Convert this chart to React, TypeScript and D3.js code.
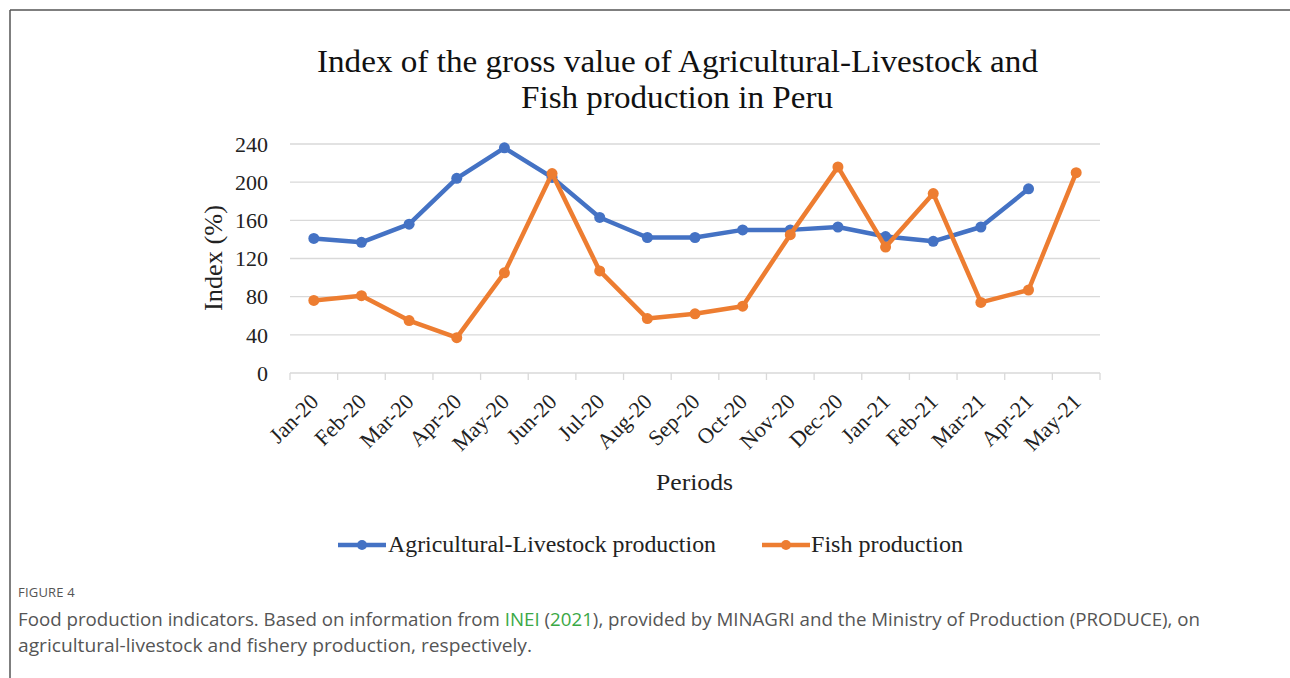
import React from "react";
import * as d3 from "d3";

const categories = ["Jan-20","Feb-20","Mar-20","Apr-20","May-20","Jun-20","Jul-20","Aug-20","Sep-20","Oct-20","Nov-20","Dec-20","Jan-21","Feb-21","Mar-21","Apr-21","May-21"];
const agriValues: (number | null)[] = [141, 137, 156, 204, 236, 205, 163, 142, 142, 150, 150, 153, 143, 138, 153, 193, null];
const fishValues: (number | null)[] = [76, 81, 55, 37, 105, 209, 107, 57, 62, 70, 145, 216, 132, 188, 74, 87, 210];
const yTicks = [0, 40, 80, 120, 160, 200, 240];

const W = 1290, H = 678;
const plotLeft = 290, plotRight = 1100, plotTop = 144, plotBottom = 373;
const BLUE = "#4472C4", ORANGE = "#ED7D31";
const SERIF = "'Liberation Serif', 'Times New Roman', serif";
const SANS = "'Open Sans', 'Noto Sans', sans-serif";

export default function App() {
  const x = d3.scaleBand<string>().domain(categories).range([plotLeft, plotRight]).padding(0);
  const y = d3.scaleLinear().domain([0, 240]).range([plotBottom, plotTop]);
  const cx = (c: string) => (x(c) ?? 0) + x.bandwidth() / 2;

  const line = d3.line<[string, number | null]>()
    .defined(d => d[1] !== null)
    .x(d => cx(d[0]))
    .y(d => y(d[1] as number));

  const series = [
    { name: "Agricultural-Livestock production", values: agriValues, color: BLUE },
    { name: "Fish production", values: fishValues, color: ORANGE },
  ];

  const tickXs = categories.map(c => x(c) ?? 0).concat([plotRight]);

  return (
    <svg width={W} height={H} style={{ position: "absolute", left: 0, top: 0, background: "#fff" }}>
      <rect x={0} y={0} width={W} height={H} fill="#fff" />
      {/* frame */}
      <line x1={10} y1={10} x2={W} y2={10} stroke="#555" strokeWidth={1.5} />
      <line x1={10} y1={10} x2={10} y2={H} stroke="#555" strokeWidth={1.5} />

      {/* title */}
      <text x={677.5} y={72} textAnchor="middle" fontFamily={SERIF} fontSize={32.5} fill="#111"
        textLength={721} lengthAdjust="spacingAndGlyphs">
        Index of the gross value of Agricultural-Livestock and
      </text>
      <text x={677} y={108} textAnchor="middle" fontFamily={SERIF} fontSize={32.5} fill="#111"
        textLength={312} lengthAdjust="spacingAndGlyphs">
        Fish production in Peru
      </text>

      {/* grid */}
      {yTicks.map(t => (
        <g key={t}>
          {t > 0 && <line x1={plotLeft} x2={plotRight} y1={y(t)} y2={y(t)} stroke="#d9d9d9" strokeWidth={1.3} />}
          <text x={268} y={y(t)} dy="0.35em" textAnchor="end" fontFamily={SERIF} fontSize={22} fill="#222">{t}</text>
        </g>
      ))}
      {/* x axis */}
      <line x1={plotLeft} x2={plotRight} y1={plotBottom} y2={plotBottom} stroke="#d9d9d9" strokeWidth={1.3} />
      {tickXs.map((tx, i) => (
        <line key={i} x1={tx} x2={tx} y1={plotBottom} y2={plotBottom + 7} stroke="#d9d9d9" strokeWidth={1.3} />
      ))}
      {categories.map(c => (
        <text key={c} transform={`translate(${cx(c) + 6},${plotBottom + 30}) rotate(-45)`} textAnchor="end"
          fontFamily={SERIF} fontSize={22} fill="#222">{c}</text>
      ))}

      {/* axis titles */}
      <text transform={`translate(222,258) rotate(-90)`} textAnchor="middle"
        fontFamily={SERIF} fontSize={25} fill="#222" textLength={106} lengthAdjust="spacingAndGlyphs">Index (%)</text>
      <text x={694.5} y={490} textAnchor="middle" fontFamily={SERIF} fontSize={24} fill="#222"
        textLength={77} lengthAdjust="spacingAndGlyphs">Periods</text>

      {/* series */}
      {series.map(s => {
        const pts = categories.map((c, i) => [c, s.values[i]] as [string, number | null]);
        return (
          <g key={s.name}>
            <path d={line(pts) ?? ""} fill="none" stroke={s.color} strokeWidth={4.5} strokeLinejoin="round" strokeLinecap="round" />
            {pts.filter(p => p[1] !== null).map(p => (
              <circle key={p[0]} cx={cx(p[0])} cy={y(p[1] as number)} r={5.5} fill={s.color} />
            ))}
          </g>
        );
      })}

      {/* legend */}
      <g>
        <line x1={338} x2={386} y1={545} y2={545} stroke={BLUE} strokeWidth={4.5} />
        <circle cx={362} cy={545} r={5} fill={BLUE} />
        <text x={388} y={552} fontFamily={SERIF} fontSize={23} fill="#222" textLength={328} lengthAdjust="spacingAndGlyphs">Agricultural-Livestock production</text>
        <line x1={762} x2={810} y1={545} y2={545} stroke={ORANGE} strokeWidth={4.5} />
        <circle cx={786} cy={545} r={5} fill={ORANGE} />
        <text x={811} y={552} fontFamily={SERIF} fontSize={23} fill="#222" textLength={152} lengthAdjust="spacingAndGlyphs">Fish production</text>
      </g>

      {/* caption */}
      <text x={18} y={597} fontFamily={SANS} fontSize={13} fill="#555" letterSpacing={0.2}>FIGURE 4</text>
      <text x={18} y={626} fontFamily={SANS} fontSize={17.5} fill="#555" textLength={1182} lengthAdjust="spacingAndGlyphs">
        Food production indicators. Based on information from <tspan fill="#3aa845">INEI</tspan> (<tspan fill="#3aa845">2021</tspan>), provided by MINAGRI and the Ministry of Production (PRODUCE), on
      </text>
      <text x={18} y={652} fontFamily={SANS} fontSize={17.5} fill="#555" textLength={514} lengthAdjust="spacingAndGlyphs">
        agricultural-livestock and fishery production, respectively.
      </text>
    </svg>
  );
}
